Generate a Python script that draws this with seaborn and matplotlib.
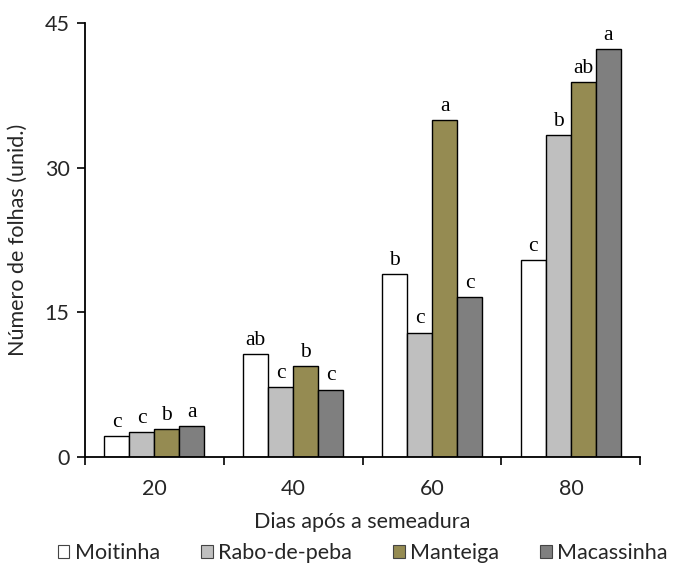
import matplotlib
matplotlib.use("Agg")
import matplotlib.pyplot as plt
import matplotlib.patches as mpatches
import pandas as pd
import seaborn as sns

# Leaf counts per cultivar at each sampling date (days after sowing)
days = ["20", "40", "60", "80"]
cultivars = ["Moitinha", "Rabo-de-peba", "Manteiga", "Macassinha"]
moitinha = [2.2, 10.7, 19.0, 20.4]
rabo_de_peba = [2.6, 7.3, 12.9, 33.4]
manteiga = [2.9, 9.4, 34.9, 38.9]
macassinha = [3.2, 7.0, 16.6, 42.3]

# Tukey letters shown above each bar
letters_moitinha = ["c", "ab", "b", "c"]
letters_rabo = ["c", "c", "c", "b"]
letters_manteiga = ["b", "b", "a", "ab"]
letters_macassinha = ["a", "c", "c", "a"]

colors = ["#FFFFFF", "#BFBFBF", "#958B52", "#7F7F7F"]

series = [moitinha, rabo_de_peba, manteiga, macassinha]
letters = [letters_moitinha, letters_rabo, letters_manteiga, letters_macassinha]

rows = []
for name, vals in zip(cultivars, series):
    for d, v in zip(days, vals):
        rows.append({"Dias": d, "Cultivar": name, "Folhas": v})
df = pd.DataFrame(rows)

sns.set_style("white")
plt.rcParams["font.family"] = ["Lato", "DejaVu Sans"]

FS = 15.5

fig = plt.figure(figsize=(6.74, 5.70), dpi=100)
ax = fig.add_axes([0.126, 0.198, 0.824, 0.762])

sns.barplot(data=df, x="Dias", y="Folhas", hue="Cultivar", order=days,
            hue_order=cultivars, palette=colors, width=0.72, gap=0,
            edgecolor="black", linewidth=1.0, saturation=1, legend=False, ax=ax)

for cont, labs in zip(ax.containers, letters):
    ax.bar_label(cont, labels=labs, padding=3, fontsize=15.5,
                 family="Liberation Serif", color="black")

ax.set_ylim(0, 45)
ax.set_yticks([0, 15, 30, 45])
ax.set_xlim(-0.5, 3.5)

# Tick marks at category boundaries on x, labels centered on groups
ax.set_xticks([0, 1, 2, 3])
ax.set_xticks([-0.5, 0.5, 1.5, 2.5, 3.5], minor=True)
ax.tick_params(axis="x", which="major", length=0, pad=16, labelsize=FS)
ax.tick_params(axis="x", which="minor", length=6, width=1.2, direction="out",
               bottom=True, color="black")
ax.tick_params(axis="y", length=6, width=1.2, direction="out", left=True,
               labelsize=FS, pad=5, color="black")

for side in ["top", "right"]:
    ax.spines[side].set_visible(False)
for side in ["left", "bottom"]:
    ax.spines[side].set_color("black")
    ax.spines[side].set_linewidth(1.3)

ax.set_xlabel("Dias após a semeadura", fontsize=FS, labelpad=9)
ax.set_ylabel("Número de folhas (unid.)", fontsize=FS, labelpad=12)

handles = [mpatches.Patch(facecolor=c, edgecolor="#444444", linewidth=0.8, label=n)
           for c, n in zip(colors, cultivars)]
fig.legend(handles=handles, loc="center", bbox_to_anchor=(0.538, 0.03), ncol=4,
           frameon=False, fontsize=FS, handlelength=0.55, handleheight=0.55,
           handletextpad=0.25, columnspacing=1.9, borderpad=0.1)

fig.savefig("out.png", dpi=100)
